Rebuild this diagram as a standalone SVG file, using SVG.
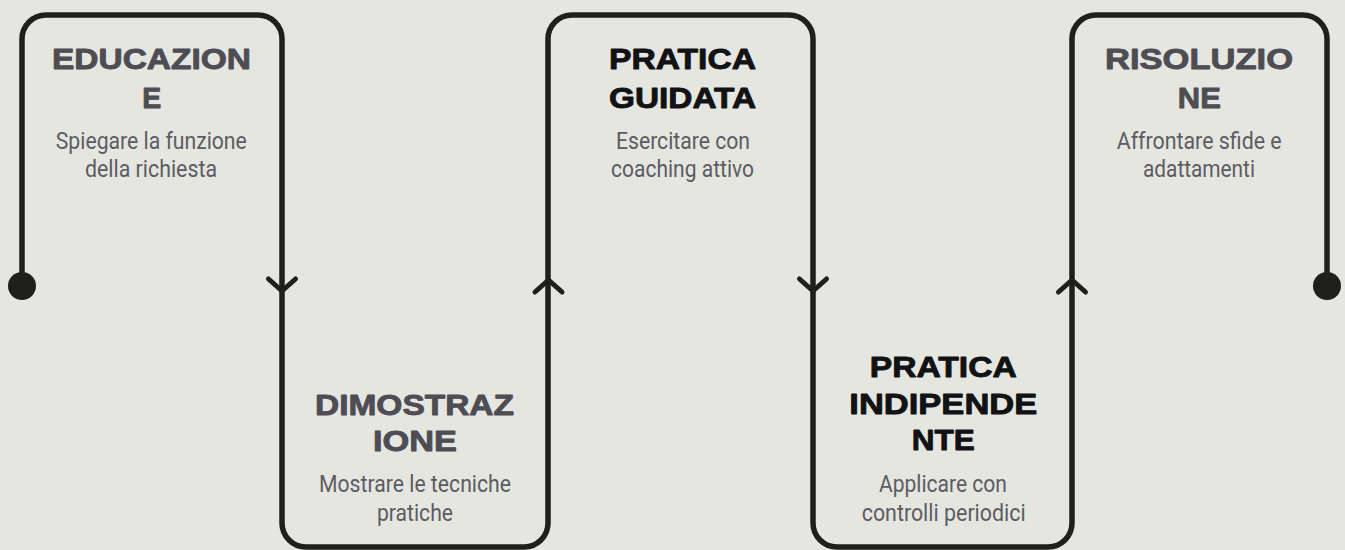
<svg xmlns="http://www.w3.org/2000/svg" width="1345" height="550" viewBox="0 0 1345 550">
<style>
.track{fill:none;stroke:#1f1f1b;stroke-width:5.5;stroke-linejoin:round}
.chev{fill:none;stroke:#1f1f1b;stroke-width:5;stroke-linecap:round;stroke-linejoin:round}
.dot{fill:#1f1f1b}
.t{font-family:"Liberation Sans",Arial,sans-serif;font-weight:700;font-size:30px;text-anchor:middle;stroke-width:0.9;stroke-linejoin:round}
.tg{fill:#4d4d53;stroke:#4d4d53}
.tk{fill:#111214;stroke:#111214}
.s{font-family:Roboto,"Liberation Sans",sans-serif;font-size:23px;fill:#5c5c62;text-anchor:middle}
</style>
<rect width="1345" height="550" fill="#e6e6e1"/>
<g id="connectors">
<path class="track" d="M22,286 V39 A24,24 0 0 1 46,15 H258 A24,24 0 0 1 282,39 V523 A24,24 0 0 0 306,547 H524 A24,24 0 0 0 548,523 V39 A24,24 0 0 1 572,15 H789 A24,24 0 0 1 813,39 V523 A24,24 0 0 0 837,547 H1048 A24,24 0 0 0 1072,523 V39 A24,24 0 0 1 1096,15 H1303 A24,24 0 0 1 1327,39 V286"/>
<polyline class="chev" points="268.5,279 282,291 295.5,279"/>
<polyline class="chev" points="535,292 548.5,280 562,292"/>
<polyline class="chev" points="799.5,279 813,291 826.5,279"/>
<polyline class="chev" points="1058.5,292 1072,280 1085.5,292"/>
<circle class="dot" cx="22" cy="286" r="14"/>
<circle class="dot" cx="1327" cy="286" r="14"/>
</g>
<g id="node-educazione">
<text class="t tg" x="151.5" y="68.5" textLength="199" lengthAdjust="spacingAndGlyphs">EDUCAZION</text>
<text class="t tg" x="151.7" y="107.5" textLength="19" lengthAdjust="spacingAndGlyphs">E</text>
<text class="s" x="151.3" y="148.5" textLength="191" lengthAdjust="spacingAndGlyphs">Spiegare la funzione</text>
<text class="s" x="151" y="176.5" textLength="132" lengthAdjust="spacingAndGlyphs">della richiesta</text>
</g>
<g id="node-dimostrazione">
<text class="t tg" x="414.5" y="415" textLength="199" lengthAdjust="spacingAndGlyphs">DIMOSTRAZ</text>
<text class="t tg" x="415" y="451" textLength="84" lengthAdjust="spacingAndGlyphs">IONE</text>
<text class="s" x="415" y="492" textLength="192" lengthAdjust="spacingAndGlyphs">Mostrare le tecniche</text>
<text class="s" x="415" y="521" textLength="76" lengthAdjust="spacingAndGlyphs">pratiche</text>
</g>
<g id="node-pratica-guidata">
<text class="t tk" x="682.5" y="69" textLength="147" lengthAdjust="spacingAndGlyphs">PRATICA</text>
<text class="t tk" x="682.5" y="108" textLength="147" lengthAdjust="spacingAndGlyphs">GUIDATA</text>
<text class="s" x="683" y="148.5" textLength="134" lengthAdjust="spacingAndGlyphs">Esercitare con</text>
<text class="s" x="682.5" y="176.5" textLength="143" lengthAdjust="spacingAndGlyphs">coaching attivo</text>
</g>
<g id="node-pratica-indipendente">
<text class="t tk" x="943.3" y="377.3" textLength="147" lengthAdjust="spacingAndGlyphs">PRATICA</text>
<text class="t tk" x="943.3" y="413.5" textLength="188" lengthAdjust="spacingAndGlyphs">INDIPENDE</text>
<text class="t tk" x="943.3" y="450" textLength="63" lengthAdjust="spacingAndGlyphs">NTE</text>
<text class="s" x="943" y="491.5" textLength="128" lengthAdjust="spacingAndGlyphs">Applicare con</text>
<text class="s" x="943.7" y="521" textLength="164" lengthAdjust="spacingAndGlyphs">controlli periodici</text>
</g>
<g id="node-risoluzione">
<text class="t tg" x="1199" y="68.5" textLength="188" lengthAdjust="spacingAndGlyphs">RISOLUZIO</text>
<text class="t tg" x="1199.3" y="107.5" textLength="43" lengthAdjust="spacingAndGlyphs">NE</text>
<text class="s" x="1199.2" y="148.5" textLength="165" lengthAdjust="spacingAndGlyphs">Affrontare sfide e</text>
<text class="s" x="1199" y="176.5" textLength="112" lengthAdjust="spacingAndGlyphs">adattamenti</text>
</g>
</svg>
